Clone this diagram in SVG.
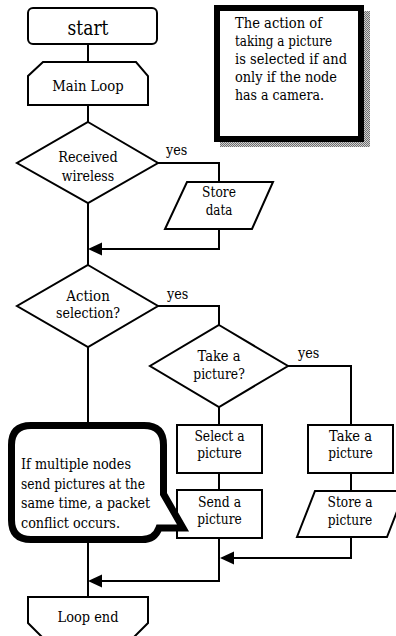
<svg xmlns="http://www.w3.org/2000/svg" width="396" height="636" viewBox="0 0 396 636">
<style>
text{font-family:'DejaVu Serif','Liberation Serif',serif;font-size:14.5px;fill:#000}
.s{fill:#fff;stroke:#000;stroke-width:2}
.t{text-anchor:middle}
.c{fill:none;stroke:#000;stroke-width:2}
</style>
<defs>
<pattern id="dots" width="2" height="2" patternUnits="userSpaceOnUse">
<rect width="2" height="2" fill="#d0d0d0"/>
<rect width="1" height="1" fill="#707070"/>
<rect x="1" y="1" width="1" height="1" fill="#707070"/>
</pattern>
</defs>
<rect width="396" height="636" fill="#fff"/>
<g id="connectors">
<path class="c" d="M88,44 V62"/>
<path class="c" d="M88,105 V122"/>
<path class="c" d="M158,163 H219 V182"/>
<path class="c" d="M219,229 V249 H102"/>
<path d="M88,249 L102,242.5 L102,255.5 Z" fill="#000"/>
<path class="c" d="M88,203 V265"/>
<path class="c" d="M158,306 H219 V325"/>
<path class="c" d="M288,366 H351 V425"/>
<path class="c" d="M219,407 V425"/>
<path class="c" d="M219,473 V490"/>
<path class="c" d="M351,473 V491"/>
<path class="c" d="M351,537 V558 H234"/>
<path d="M220,558 L234,551.5 L234,564.5 Z" fill="#000"/>
<path class="c" d="M219,538 V581 H102"/>
<path d="M88,581 L102,574.5 L102,587.5 Z" fill="#000"/>
<path class="c" d="M88,347 V597"/>
</g>
<g id="start">
<rect class="s" x="28" y="8" width="129" height="36" rx="5"/>
<text class="t" x="88" y="35" style="font-size:21px" textLength="41" lengthAdjust="spacingAndGlyphs">start</text>
</g>
<g id="mainloop">
<path class="s" d="M43,62 H136 L148,76 V105 H28 V76 Z"/>
<text class="t" x="88" y="91" textLength="71.5" lengthAdjust="spacingAndGlyphs">Main Loop</text>
</g>
<g id="received">
<path class="s" d="M88,122 L158,163 L88,203 L17,163 Z"/>
<text class="t" x="88" y="162" textLength="59.5" lengthAdjust="spacingAndGlyphs">Received</text>
<text class="t" x="88" y="181" textLength="52.4" lengthAdjust="spacingAndGlyphs">wireless</text>
<text x="166" y="155" textLength="21.3" lengthAdjust="spacingAndGlyphs">yes</text>
</g>
<g id="storedata">
<path class="s" d="M187,182 H273 L252,229 H165 Z"/>
<text class="t" x="219" y="197" textLength="33.8" lengthAdjust="spacingAndGlyphs">Store</text>
<text class="t" x="219" y="215" textLength="26.7" lengthAdjust="spacingAndGlyphs">data</text>
</g>
<g id="action">
<path class="s" d="M88,265 L158,306 L88,347 L17,306 Z"/>
<text class="t" x="88" y="301" textLength="43.6" lengthAdjust="spacingAndGlyphs">Action</text>
<text class="t" x="88" y="318" textLength="64" lengthAdjust="spacingAndGlyphs">selection?</text>
<text x="167" y="299" textLength="21.3" lengthAdjust="spacingAndGlyphs">yes</text>
</g>
<g id="takepicq">
<path class="s" d="M219,325 L288,366 L219,407 L150,366 Z"/>
<text class="t" x="219" y="361" textLength="43.1" lengthAdjust="spacingAndGlyphs">Take a</text>
<text class="t" x="219" y="379" textLength="51.5" lengthAdjust="spacingAndGlyphs">picture?</text>
<text x="298" y="358" textLength="21.3" lengthAdjust="spacingAndGlyphs">yes</text>
</g>
<g id="select">
<rect class="s" x="177" y="425" width="85" height="48"/>
<text class="t" x="219.5" y="441" textLength="50.2" lengthAdjust="spacingAndGlyphs">Select a</text>
<text class="t" x="219.5" y="458" textLength="44.4" lengthAdjust="spacingAndGlyphs">picture</text>
</g>
<g id="takepic">
<rect class="s" x="308" y="425" width="85" height="48"/>
<text class="t" x="350.5" y="441" textLength="43.1" lengthAdjust="spacingAndGlyphs">Take a</text>
<text class="t" x="350.5" y="458" textLength="44.4" lengthAdjust="spacingAndGlyphs">picture</text>
</g>
<g id="send">
<rect class="s" x="177" y="490" width="85" height="48"/>
<text class="t" x="219.5" y="507" textLength="43.1" lengthAdjust="spacingAndGlyphs">Send a</text>
<text class="t" x="219.5" y="524" textLength="44.4" lengthAdjust="spacingAndGlyphs">picture</text>
</g>
<g id="storepic">
<path class="s" d="M315,491 H405 L387,537 H297 Z"/>
<text class="t" x="350" y="507" textLength="44.9" lengthAdjust="spacingAndGlyphs">Store a</text>
<text class="t" x="350" y="525" textLength="44.4" lengthAdjust="spacingAndGlyphs">picture</text>
</g>
<g id="loopend">
<path class="s" d="M28,597 H148 V623 L134,637 H42 L28,623 Z"/>
<text class="t" x="88" y="622" textLength="60.9" lengthAdjust="spacingAndGlyphs">Loop end</text>
</g>
<g id="note">
<rect x="220" y="11" width="150" height="136" fill="url(#dots)"/>
<rect x="217" y="8" width="144" height="131" fill="#fff" stroke="#000" stroke-width="6"/>
<text x="235" y="28" textLength="87" lengthAdjust="spacingAndGlyphs">The action of</text>
<text x="235" y="46" textLength="97" lengthAdjust="spacingAndGlyphs">taking a picture</text>
<text x="235" y="64" textLength="112" lengthAdjust="spacingAndGlyphs">is selected if and</text>
<text x="235" y="82" textLength="102" lengthAdjust="spacingAndGlyphs">only if the node</text>
<text x="235" y="100" textLength="89" lengthAdjust="spacingAndGlyphs">has a camera.</text>
</g>
<g id="callout">
<path d="M31,425.5 H144 Q163.5,425.5 163.5,445 V494 L183,528 L159,528 Q155,539.5 142,539.5 H31 Q11.5,539.5 11.5,520 V445 Q11.5,425.5 31,425.5 Z" fill="#fff" stroke="#000" stroke-width="7" stroke-linejoin="miter"/>
<text x="21" y="469" textLength="110" lengthAdjust="spacingAndGlyphs">If multiple nodes</text>
<text x="21" y="489" textLength="124" lengthAdjust="spacingAndGlyphs">send pictures at the</text>
<text x="21" y="508" textLength="129" lengthAdjust="spacingAndGlyphs">same time, a packet</text>
<text x="21" y="528" textLength="99" lengthAdjust="spacingAndGlyphs">conflict occurs.</text>
</g>
</svg>
